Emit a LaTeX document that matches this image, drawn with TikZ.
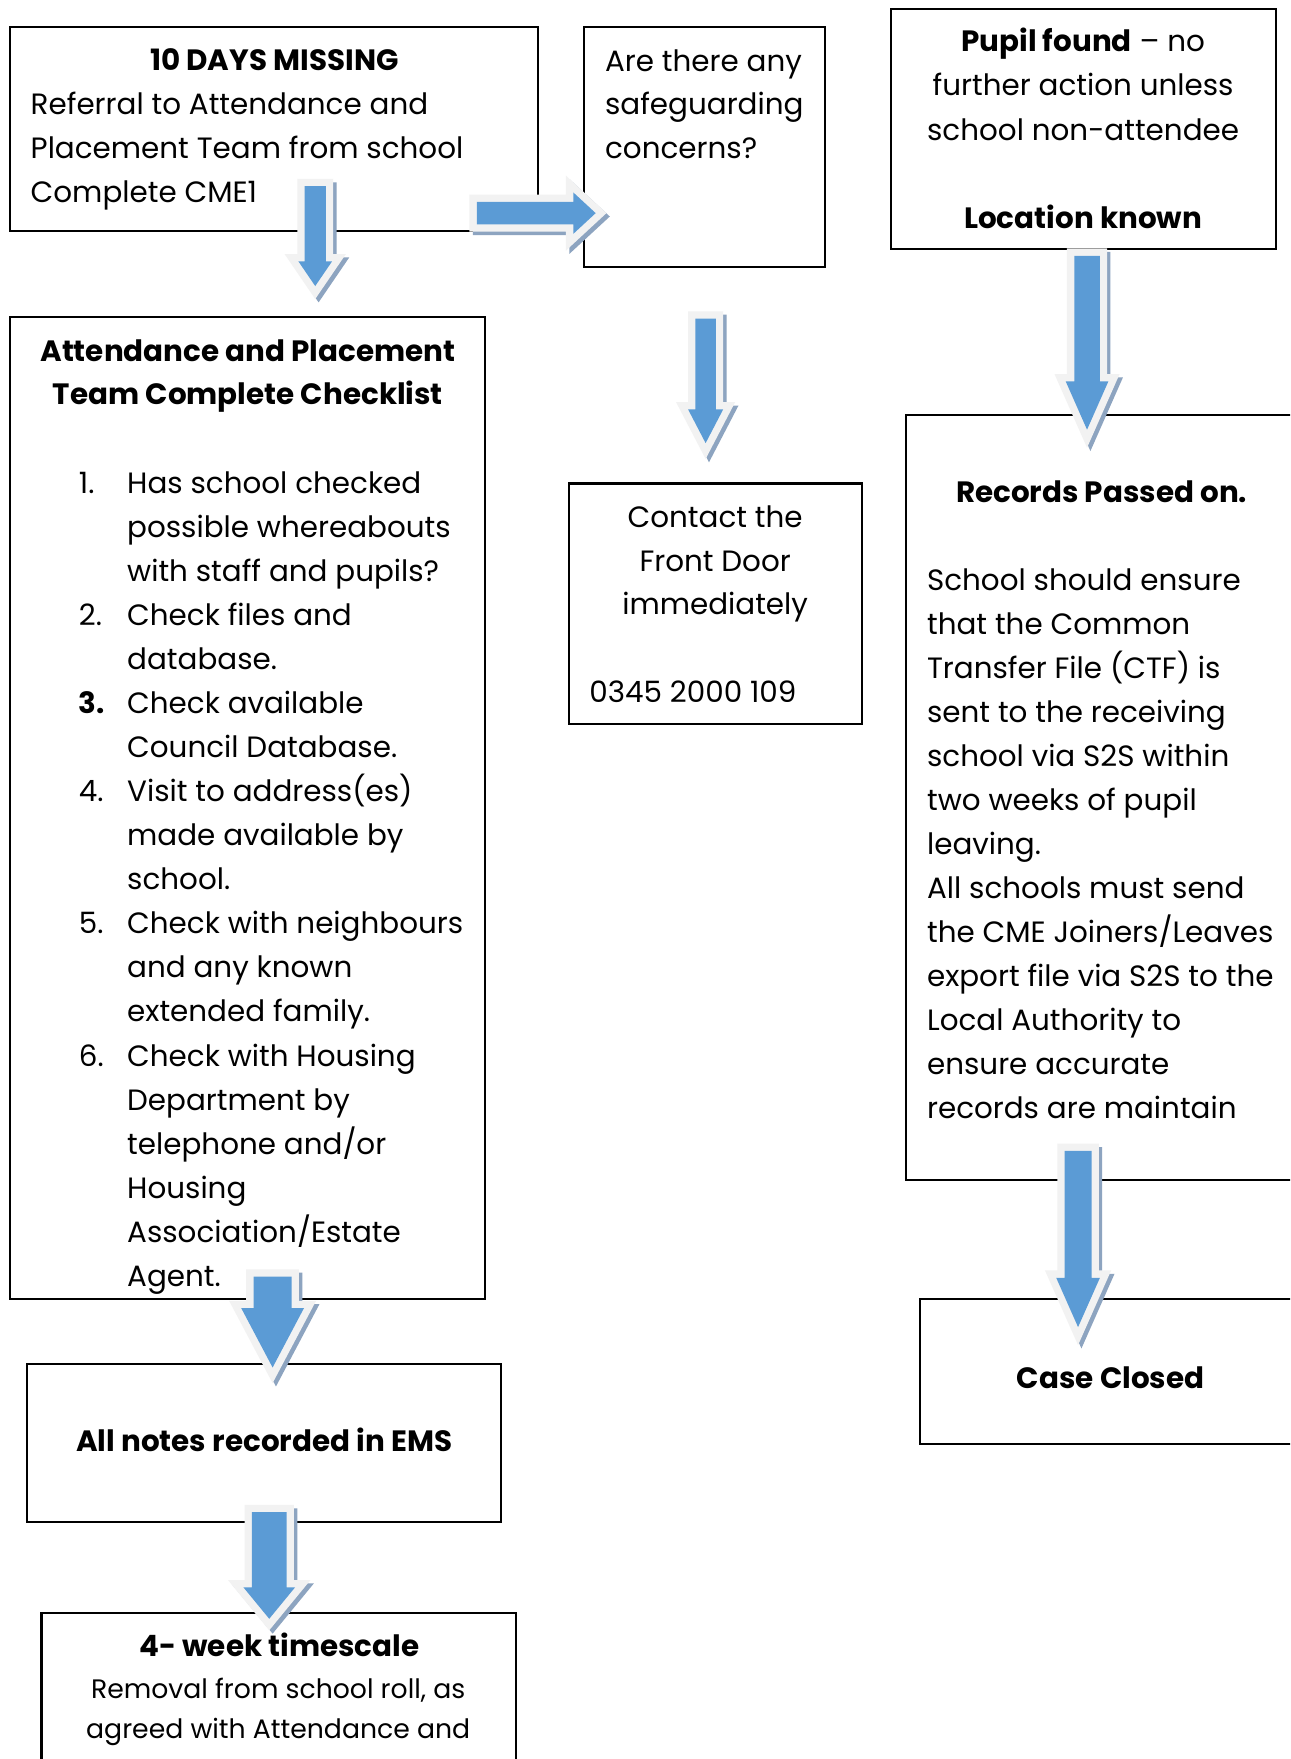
\documentclass[tikz,border=0pt]{standalone}
\usepackage{fontspec}
\setmainfont{Poppins}
\usetikzlibrary{calc,fit}
\definecolor{arrowblue}{RGB}{91,155,213}
\definecolor{arrowrim}{RGB}{242,242,242}
\definecolor{arrowshade}{RGB}{141,164,192}
\tikzset{
  box/.style={draw=black, line width=0.9pt, inner sep=0pt, fill=white},
  txt/.style={inner sep=0pt, font=\fontsize{13.1pt}{19.6pt}\selectfont},
  smalltxt/.style={inner sep=0pt, font=\fontsize{11.9pt}{18pt}\selectfont},
  arshadow/.style={fill=arrowshade, draw=arrowshade, line width=6.5pt, line join=miter, transform canvas={shift={(3,3)}}},
  arrim/.style={draw=arrowrim, line width=6.5pt, line join=miter},
  arface/.style={fill=arrowblue},
}
% #1 tail, #2 tip, #3 shaft half, #4 head half, #5 head length
\newcommand\downblock[5]{%
  \foreach \st in {arshadow,arrim,arface}{%
    \path[\st] ($(#1)+(-#3,0)$) -- ($(#1)+(#3,0)$) -- ($(#2)+(#3,-#5)$) -- ($(#2)+(#4,-#5)$) -- (#2)
      -- ($(#2)+(-#4,-#5)$) -- ($(#2)+(-#3,-#5)$) -- cycle;}}
\newcommand\rightblock[5]{%
  \foreach \st in {arshadow,arrim,arface}{%
    \path[\st] ($(#1)+(0,-#3)$) -- ($(#2)+(-#5,-#3)$) -- ($(#2)+(-#5,-#4)$) -- (#2)
      -- ($(#2)+(-#5,#4)$) -- ($(#2)+(-#5,#3)$) -- ($(#1)+(0,#3)$) -- cycle;}}
\begin{document}
\begin{tikzpicture}[x=0.5pt,y=-0.5pt]
\clip (0,0) rectangle (1150,1568);
\fill[white] (0,0) rectangle (1150,1568);

% ---------- boxes ----------
\node[box, fit={(9,24)(480,206)}] (b1) {};
\node[box, fit={(521,24)(735,238)}] (q) {};
\node[box, fit={(794,8)(1137,222)}] (pf) {};
\node[box, fit={(9,283)(432,1158)}] (chk) {};
\node[box, fit={(507,431)(768,645)}] (fd) {};
\node[box, fit={(808,370)(1170,1052)}] (rec) {};
\node[box, fit={(820,1158)(1170,1287)}] (cc) {};
\node[box, fit={(24,1216)(447,1357)}] (ems) {};
\node[box, fit={(37,1438)(460,1590)}] (wk) {};

% ---------- box 1 ----------
\node[txt, anchor=base] (b1t) at (244.5,63) {\textbf{10 DAYS MISSING}};
\foreach \t [count=\i from 0] in {Referral to Attendance and, Placement Team from school, Complete CME1}
  \node[txt, anchor=base west] (b1l\i) at (27,102.5+39*\i) {\t};

% ---------- safeguarding ----------
\foreach \t [count=\i from 0] in {Are there any, safeguarding, concerns?}
  \node[txt, anchor=base west] (ql\i) at (539,63.5+39*\i) {\t};

% ---------- pupil found ----------
\node[txt, anchor=base] (pf1) at (965.5,46) {\textbf{Pupil found} – no};
\node[txt, anchor=base] (pf2) at (965.5,85.5) {further action unless};
\node[txt, anchor=base] (pf3) at (965.5,125) {school non-attendee};
\node[txt, anchor=base] (pf4) at (965.5,203.5) {\textbf{Location known}};

% ---------- checklist ----------
\node[txt, anchor=base] (ct1) at (221,322) {\textbf{Attendance and Placement}};
\node[txt, anchor=base] (ct2) at (221,361) {\textbf{Team Complete Checklist}};
\begin{scope}
\clip (10,284) rectangle (431,1157);
\foreach \t [count=\i from 0] in {Has school checked, possible whereabouts, with staff and pupils?,
  Check files and, database., Check available, Council Database., Visit to address(es),
  made available by, school., Check with neighbours, and any known, extended family.,
  Check with Housing, Department by, telephone and/or, Housing, Association/Estate, Agent.}
  \node[txt, anchor=base west] (cl\i) at (113,440+39.25*\i) {\t};
\end{scope}
\foreach \n/\k in {1/0,2/3,4/7,5/10,6/13}
  \node[txt, anchor=base west] (cn\n) at (70,440+39.25*\k) {\n.};
\node[txt, anchor=base west] (cn3) at (70,440+39.25*5) {\textbf{3.}};

% ---------- front door ----------
\node[txt, anchor=base] (fd1) at (637.5,470) {Contact the};
\node[txt, anchor=base] (fd2) at (637.5,509) {Front Door};
\node[txt, anchor=base] (fd3) at (637.5,548) {immediately};
\node[txt, anchor=base west] (fd4) at (525,626.5) {0345 2000 109};

% ---------- records ----------
\node[txt, anchor=base] (rt) at (982,448) {\textbf{Records Passed on.}};
\foreach \t [count=\i from 0] in {School should ensure, that the Common, Transfer File (CTF) is,
  sent to the receiving, school via S2S within, two weeks of pupil, leaving.,
  All schools must send, the CME Joiners/Leaves, export file via S2S to the,
  Local Authority to, ensure accurate, records are maintain}
  \node[txt, anchor=base west] (rl\i) at (826,526+39.27*\i) {\t};

% ---------- case closed / EMS / 4-week ----------
\node[txt, anchor=base] (cct) at (990,1238) {\textbf{Case Closed}};
\node[txt, anchor=base] (emst) at (235.5,1294) {\textbf{All notes recorded in EMS}};
\node[txt, anchor=base] (wk1) at (249,1477) {\textbf{4- week timescale}};
\node[smalltxt, anchor=base] (wk2) at (248,1514) {Removal from school roll, as};
\node[smalltxt, anchor=base] (wk3) at (248,1549.5) {agreed with Attendance and};

% ---------- block arrows ----------
\coordinate (aA1) at (281,166);  \coordinate (aA2) at (281,255);
\coordinate (aB1) at (425,190);  \coordinate (aB2) at (531,190);
\coordinate (aC1) at (629,284);  \coordinate (aC2) at (629,395);
\coordinate (aD1) at (969,228);  \coordinate (aD2) at (969,383);
\coordinate (aE1) at (243,1138); \coordinate (aE2) at (243,1219);
\coordinate (aF1) at (240,1348); \coordinate (aF2) at (240,1443);
\coordinate (aG1) at (961,1026); \coordinate (aG2) at (961,1183);
\downblock{aA1}{aA2}{9.5}{15}{22}
\rightblock{aB1}{aB2}{10}{18.5}{20}
\downblock{aC1}{aC2}{9.2}{15.6}{30}
\downblock{aD1}{aD2}{11.4}{19}{43}
\downblock{aE1}{aE2}{17}{28}{53}
\downblock{aF1}{aF2}{15.5}{23}{28}
\downblock{aG1}{aG2}{12}{19.5}{44}
\end{tikzpicture}
\end{document}
